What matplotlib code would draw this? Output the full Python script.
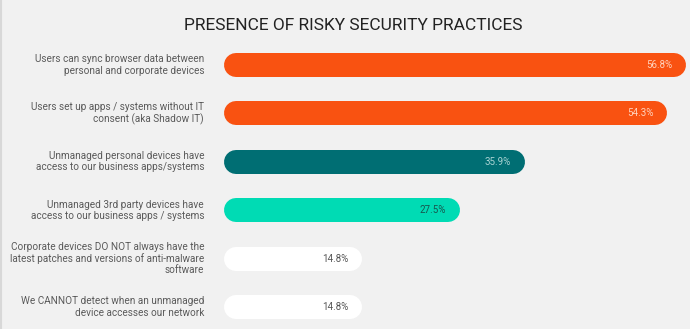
import matplotlib
matplotlib.use("Agg")
import matplotlib.pyplot as plt
from matplotlib.lines import Line2D

title = "PRESENCE OF RISKY SECURITY PRACTICES"
categories = [
    "Users can sync browser data between\npersonal and corporate devices",
    "Users set up apps / systems without IT\nconsent (aka Shadow IT)",
    "Unmanaged personal devices have\naccess to our business apps/systems",
    "Unmanaged 3rd party devices have\naccess to our business apps / systems",
    "Corporate devices DO NOT always have the\nlatest patches and versions of anti-malware\nsoftware",
    "We CANNOT detect when an unmanaged\ndevice accesses our network",
]
values = [56.8, 54.3, 35.9, 27.5, 14.8, 14.8]
bar_colors = ["#F95211", "#F95211", "#006E73", "#00DBB4", "#FFFFFF", "#FFFFFF"]
value_colors = ["#FFD3BE", "#FFD3BE", "#A9D3D3", "#17574F", "#555555", "#555555"]

BG = "#F1F1F1"
W, H, DPI = 690, 329, 100
fig = plt.figure(figsize=(W / DPI, H / DPI), dpi=DPI, facecolor=BG)

# axes from pixel x=236 to right edge, full height
x0 = 236
scale = 7.72  # px per percent
ax = fig.add_axes([x0 / W, 0, 1 - x0 / W, 1])
ax.set_facecolor("none")
ax.set_xlim(0, (W - x0) / scale)
row0, step = 65, 48.4
ax.set_ylim((H - row0) / step, -row0 / step)
ax.axis("off")

lw_pt = 24 * 72 / DPI
for i, (cat, v, bc, vc) in enumerate(zip(categories, values, bar_colors, value_colors)):
    ax.plot([0, v], [i, i], color=bc, lw=lw_pt, solid_capstyle="round", clip_on=False)
    ax.annotate(f"{v}%", xy=(v, i), xytext=(-1.5, 0), textcoords="offset points",
                ha="right", va="center", fontsize=7, color=vc, family="Roboto",
                annotation_clip=False)
    ax.annotate(cat, xy=(0, i), xytext=(-23, 0), textcoords="offset points",
                ha="right", va="center", fontsize=7.2, color="#5A5A5A", family="Roboto",
                linespacing=1.15, multialignment="right", annotation_clip=False)

fig.text(353 / W, 1 - 25 / H, title, ha="center", va="center", fontsize=12.5,
         color="#222222", family="Roboto")

# thin left border
fig.add_artist(Line2D([0.5 / W, 0.5 / W], [0, 1], transform=fig.transFigure,
                      color="#D8D8D8", lw=1.5))

fig.savefig("out.png", dpi=DPI, facecolor=BG)
